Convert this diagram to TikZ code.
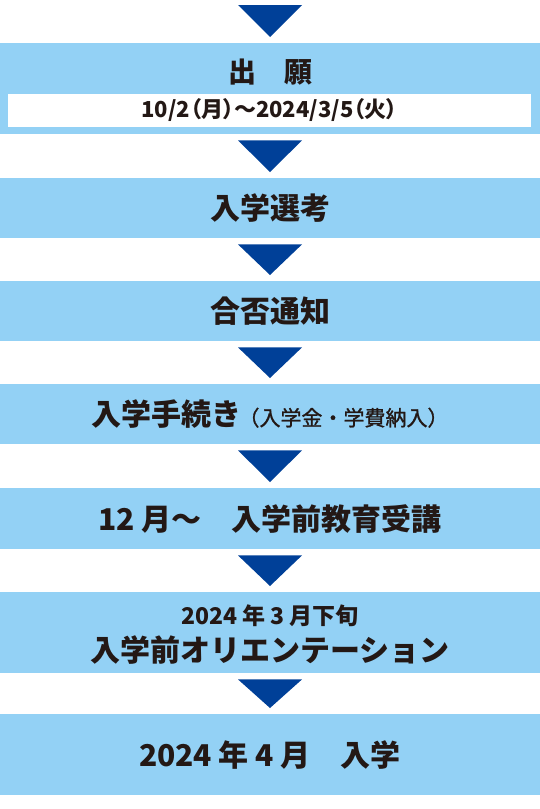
\documentclass[tikz,border=0pt]{standalone}
\usepackage{fontspec}
\usetikzlibrary{calc}
\newfontfamily\jp{Noto Sans CJK JP}
\newfontfamily\jpp{Noto Sans CJK JP}[RawFeature=+palt]
\newfontfamily\jpm{Noto Sans CJK JP}[FakeBold=1.2]
\definecolor{boxc}{HTML}{93D1F5}
\definecolor{arrowc}{HTML}{004098}
\definecolor{txtc}{HTML}{231815}
\tikzset{
  x=1pt, y=-1pt,
  band/.style={fill=boxc, draw=none, inner sep=0pt, minimum width=540pt, anchor=north,
     text=txtc, font=\jp\bfseries\fontsize{30}{34}\selectfont},
  whiteband/.style={fill=white, draw=none, inner sep=0pt, minimum width=523pt, minimum height=33pt,
     text=txtc, font=\jpp\bfseries\fontsize{22}{25}\selectfont},
  lbl/.style={inner sep=0pt, text=txtc, font=\jp\bfseries\fontsize{30}{34}\selectfont},
  downarrow/.style={fill=arrowc}
}
\begin{document}
\begin{tikzpicture}
\useasboundingbox (0,0) rectangle (540,809);
% boxes
\node[band, minimum height=91pt] (b1) at (270,43) {};
\node[band, minimum height=60pt] (b2) at (270,178) {入学選考};
\node[band, minimum height=60pt] (b3) at (270,281) {合否通知};
\node[band, minimum height=60pt] (b4) at (270,384) {入学手続き\kern-3pt{\jpm\mdseries\fontsize{21}{24}\selectfont（入学金・学費納入）}};
\node[band, minimum height=61pt] (b5) at (270,488) {12 月～　入学前教育受講};
\node[band, minimum height=81pt] (b6) at (270,592) {};
\node[band, minimum height=81pt] (b7) at (270,714) {2024 年 4 月　入学};
% inner texts
\node[lbl, font=\jp\bfseries\fontsize{28}{32}\selectfont] (t1) at (270,72) {出　願};
\node[whiteband] (w1) at (269.5,110.5) {10/2（月）～2024/3/5（火）};
\node[lbl, font=\jp\bfseries\fontsize{23}{26}\selectfont] (t6a) at (270,616) {2024 年 3 月下旬};
\node[lbl] (t6b) at (270,650) {入学前オリエンテーション};
% top arrow
\coordinate (top) at (270,5);
\fill[downarrow] ($(top)+(-32,0)$) -- ($(top)+(32,0)$) -- ($(b1.north)+(0,-6)$) -- cycle;
% arrows between boxes
\foreach \a/\b in {b1/b2,b2/b3,b3/b4,b4/b5,b5/b6,b6/b7}{
  \fill[downarrow] ($(\a.south)+(-32,6)$) -- ($(\a.south)+(32,6)$) -- ($(\b.north)+(0,-6)$) -- cycle;
}
\end{tikzpicture}
\end{document}
